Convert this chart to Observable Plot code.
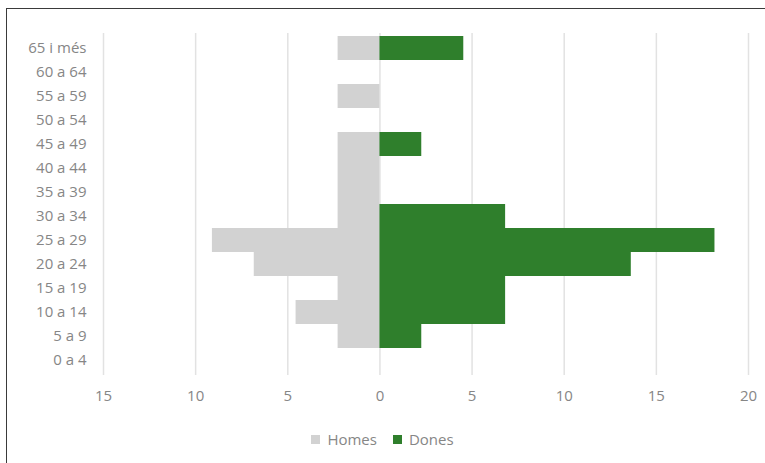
<!DOCTYPE html>
<html>
<head>
<meta charset="utf-8">
<script src="https://cdn.jsdelivr.net/npm/d3@7"></script>
<script src="https://cdn.jsdelivr.net/npm/@observablehq/plot@0.6"></script>
<style>
  html, body { margin: 0; padding: 0; background: #fff; }
  #wrap { position: relative; width: 765px; height: 463px; overflow: hidden; font-family: "Open Sans", sans-serif; }
  #frame { position: absolute; left: 6px; top: 8px; width: 800px; height: 500px; border-left: 1.5px solid #3a3a3a; border-top: 1.5px solid #3a3a3a; box-sizing: border-box; }
  #chart { position: absolute; left: 0; top: 0; }
  #legend { position: absolute; top: 429px; left: 0; width: 765px; display: flex; justify-content: center; font-size: 15px; color: #868686; }
  .item { display: flex; align-items: center; margin: 0 8px; }
  .sw { width: 9px; height: 9px; margin-right: 7px; display: inline-block; }
</style>
</head>
<body>
<div id="wrap">
  <div id="frame"></div>
  <div id="chart"></div>
  <div id="legend">
    <div class="item"><span class="sw" style="background:#d2d2d2"></span>Homes</div>
    <div class="item"><span class="sw" style="background:#2f7f2c"></span>Dones</div>
  </div>
</div>
<script>
const ages = ["65 i més","60 a 64","55 a 59","50 a 54","45 a 49","40 a 44","35 a 39","30 a 34","25 a 29","20 a 24","15 a 19","10 a 14","5 a 9","0 a 4"];
const homes = [2.27, 0, 2.27, 0, 2.27, 2.27, 2.27, 2.27, 9.09, 6.82, 2.27, 4.55, 2.27, 0];
const dones = [4.55, 0, 0, 0, 2.27, 0, 0, 6.82, 18.18, 13.64, 6.82, 6.82, 2.27, 0];
const xTicks = [-15, -10, -5, 0, 5, 10, 15, 20];

const rows = [];
ages.forEach((a, i) => {
  rows.push({age: a, sex: "Homes", v: -homes[i]});
  rows.push({age: a, sex: "Dones", v: dones[i]});
});

const chart = Plot.plot({
  width: 765,
  height: 415,
  marginLeft: 103,
  marginRight: 17,
  marginTop: 33,
  marginBottom: 40,
  style: {fontFamily: "Open Sans, sans-serif", fontSize: "15px", color: "#868686", background: "transparent"},
  x: {domain: [-15, 20], ticks: xTicks, tickFormat: d => Math.abs(d), tickSize: 0, tickPadding: 15, label: null},
  y: {domain: ages, padding: 0, tickSize: 0, tickPadding: 17, label: null},
  color: {domain: ["Homes", "Dones"], range: ["#d2d2d2", "#2f7f2c"]},
  marks: [
    Plot.gridX(xTicks, {stroke: "#e2e2e2", strokeOpacity: 1, strokeWidth: 1.5}),
    Plot.barX(rows, {x1: 0, x2: "v", y: "age", fill: "sex"}),
    Plot.axisX({ticks: xTicks, tickFormat: d => Math.abs(d), tickSize: 0, tickPadding: 15, fill: "#868686", fontSize: 15}),
    Plot.axisY({tickSize: 0, tickPadding: 17, fill: "#868686", fontSize: 15})
  ]
});
document.getElementById("chart").appendChild(chart);
</script>
</body>
</html>
